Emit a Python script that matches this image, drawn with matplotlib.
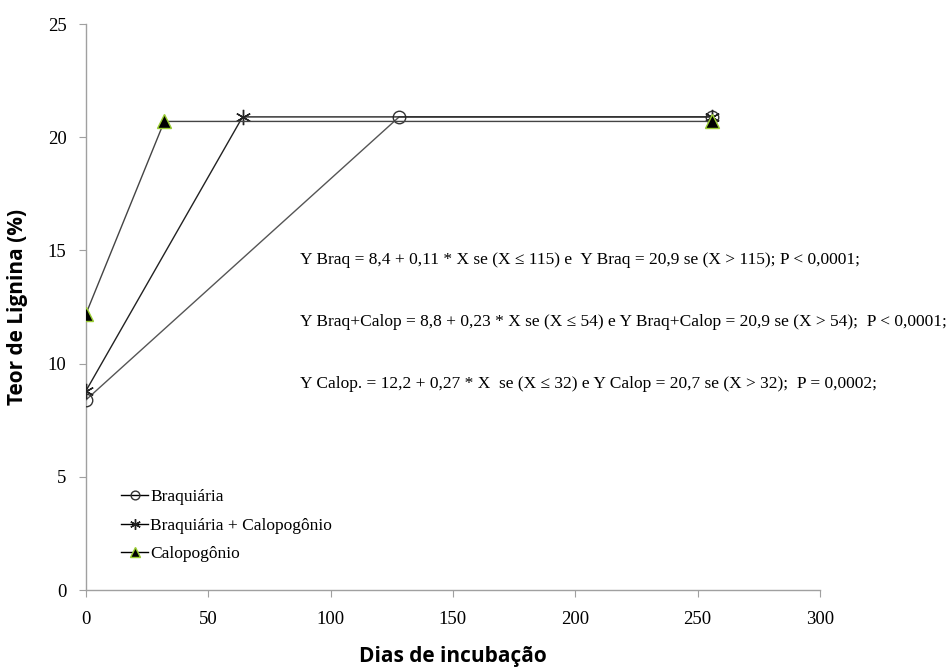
import matplotlib
matplotlib.use("Agg")
import matplotlib.pyplot as plt

dias_braq = [0, 128, 256]
lig_braq = [8.4, 20.9, 20.9]
dias_bc = [0, 64, 256]
lig_bc = [8.8, 20.9, 20.9]
dias_calop = [0, 32, 256]
lig_calop = [12.2, 20.7, 20.7]

labels = ["Braquiária", "Braquiária + Calopogônio", "Calopogônio"]
xticks = [0, 50, 100, 150, 200, 250, 300]
yticks = [0, 5, 10, 15, 20, 25]
equations = [
    "Y Braq = 8,4 + 0,11 * X se (X ≤ 115) e  Y Braq = 20,9 se (X > 115); P < 0,0001;",
    "Y Braq+Calop = 8,8 + 0,23 * X se (X ≤ 54) e Y Braq+Calop = 20,9 se (X > 54);  P < 0,0001;",
    "Y Calop. = 12,2 + 0,27 * X  se (X ≤ 32) e Y Calop = 20,7 se (X > 32);  P = 0,0002;",
]

serif = ["Liberation Serif", "DejaVu Serif"]

fig = plt.figure(figsize=(9.5, 6.69), dpi=100)
ax = fig.add_axes([0.0905, 0.118, 0.7726, 0.846])

ax.plot(dias_braq, lig_braq, color="#555555", lw=1.0, marker="o", ms=9,
        mfc="none", mec="#333333", mew=1.0, label=labels[0], zorder=3)
ax.plot(dias_bc, lig_bc, color="#222222", lw=1.0, marker=(6, 2, 0), ms=11,
        mec="#222222", mew=1.0, label=labels[1], zorder=3)
ax.plot(dias_calop, lig_calop, color="#444444", lw=1.0, marker="^", ms=10,
        mfc="black", mec="#9acd32", mew=1.0, label=labels[2], zorder=3)

ax.set_xlim(0, 300)
ax.set_ylim(0, 25)
ax.set_xticks(xticks)
ax.set_yticks(yticks)
for s in ["top", "right"]:
    ax.spines[s].set_visible(False)
for s in ["left", "bottom"]:
    ax.spines[s].set_color("#a0a0a0")
    ax.spines[s].set_linewidth(1.0)
ax.tick_params(axis="both", direction="out", length=5, color="#a0a0a0",
               labelsize=13.5)
ax.tick_params(axis="x", pad=10)
ax.tick_params(axis="y", pad=9)
for lab in ax.get_xticklabels() + ax.get_yticklabels():
    lab.set_family(serif)

ax.set_xlabel("Dias de incubação", fontsize=15, fontweight="bold",
              family=["Open Sans", "DejaVu Sans"], labelpad=13)
ax.set_ylabel("Teor de Lignina (%)", fontsize=15, fontweight="bold",
              family=["Open Sans", "DejaVu Sans"], labelpad=14)

for eq, yv in zip(equations, [14.6, 11.85, 9.1]):
    ax.text(87.5, yv, eq, fontsize=12.5, family=serif, va="center", ha="left",
            clip_on=False)

leg = ax.legend(loc="lower left", bbox_to_anchor=(0.026, 0.022), frameon=False,
                prop={"family": serif, "size": 12.5}, handlelength=1.6,
                handletextpad=0.1, labelspacing=0.7, markerscale=0.7)
for h in leg.get_lines():
    h.set_color("black")

fig.savefig("out.png", dpi=100)
